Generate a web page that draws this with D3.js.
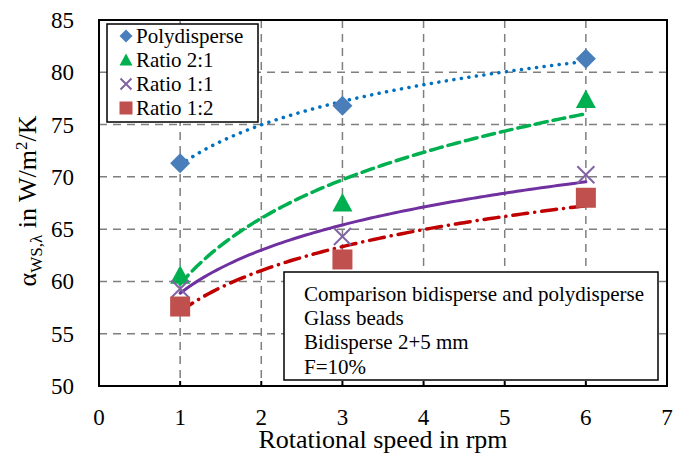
<!DOCTYPE html>
<html>
<head>
  <meta charset="UTF-8" />
  <script src="https://d3js.org/d3.v7.min.js"></script>
</head>
<body style="margin:0">
  <svg width="683" height="455" style="display:block"></svg>
  <script>
    const speeds = [1, 3, 6];
    const polydisperse = [71.3, 76.8, 81.3];
    const ratio21 = [60.6, 67.5, 77.4];
    const ratio11 = [59.3, 64.3, 70.2];
    const ratio12 = [57.6, 62.1, 68.0];
    const xTicks = [0, 1, 2, 3, 4, 5, 6, 7];
    const yTicks = [50, 55, 60, 65, 70, 75, 80, 85];
    const annotation = [
      "Comparison bidisperse and polydisperse",
      "Glass beads",
      "Bidisperse 2+5 mm",
      "F=10%"
    ];

    const series = [
      { name: "Polydisperse", values: polydisperse, marker: "diamond", color: "#4a7ebb", line: "#0070c0", dash: "0.1 7.5", width: 3.5 },
      { name: "Ratio 2:1", values: ratio21, marker: "triangle", color: "#00b050", line: "#00b050", dash: "12 6", width: 3.5 },
      { name: "Ratio 1:1", values: ratio11, marker: "cross", color: "#8064a2", line: "#7030a0", dash: null, width: 3 },
      { name: "Ratio 1:2", values: ratio12, marker: "square", color: "#c0504d", line: "#c00000", dash: "15 7 0.1 7", width: 3.5 }
    ];

    const svg = d3.select("svg");
    const m = { left: 99, top: 20, right: 667, bottom: 386 };
    const x = d3.scaleLinear().domain([0, 7]).range([m.left, m.right]);
    const y = d3.scaleLinear().domain([50, 85]).range([m.bottom, m.top]);

    // grid
    const grid = svg.append("g")
      .attr("stroke", "#7f7f7f").attr("stroke-width", 1.5).attr("stroke-dasharray", "8 6");
    grid.selectAll(".v").data(xTicks.slice(1, -1)).join("line")
      .attr("x1", d => x(d)).attr("x2", d => x(d))
      .attr("y1", m.top).attr("y2", m.bottom);
    grid.selectAll(".h").data(yTicks.slice(1, -1)).join("line")
      .attr("y1", d => y(d)).attr("y2", d => y(d))
      .attr("x1", m.left).attr("x2", m.right);

    // log trendlines (least squares on ln x)
    function logFit(xs, ys) {
      const lx = xs.map(Math.log);
      const mx = d3.mean(lx), my = d3.mean(ys);
      const a = d3.sum(lx, (v, i) => (v - mx) * (ys[i] - my)) / d3.sum(lx, v => (v - mx) ** 2);
      return t => a * Math.log(t) + my - a * mx;
    }
    const xs = d3.range(0, 101).map(i => 1 + i * 0.05);
    const line = d3.line().x(d => x(d[0])).y(d => y(d[1]));
    series.forEach(s => {
      const f = logFit(speeds, s.values);
      svg.append("path")
        .attr("d", line(xs.map(t => [t, f(t)])))
        .attr("fill", "none")
        .attr("stroke", s.line)
        .attr("stroke-width", s.width)
        .attr("stroke-linecap", "round")
        .attr("stroke-dasharray", s.dash);
    });

    // markers
    function drawMarker(g, type, color, size) {
      const h = size / 2;
      if (type === "diamond") {
        g.append("path").attr("d", `M0,${-h}L${h},0L0,${h}L${-h},0Z`).attr("fill", color);
      } else if (type === "triangle") {
        g.append("path").attr("d", `M0,${-h}L${h},${h * 0.85}L${-h},${h * 0.85}Z`).attr("fill", color);
      } else if (type === "square") {
        g.append("rect").attr("x", -h).attr("y", -h).attr("width", size).attr("height", size).attr("fill", color);
      } else {
        g.append("path").attr("d", `M${-h},${-h}L${h},${h}M${-h},${h}L${h},${-h}`)
          .attr("stroke", color).attr("stroke-width", 2).attr("fill", "none");
      }
    }
    series.forEach(s => {
      s.values.forEach((v, i) => {
        const g = svg.append("g").attr("transform", `translate(${x(speeds[i])},${y(v)})`);
        drawMarker(g, s.marker, s.color, s.marker === "cross" ? 17 : 20);
      });
    });

    // frame and inner ticks
    svg.append("rect")
      .attr("x", m.left).attr("y", m.top)
      .attr("width", m.right - m.left).attr("height", m.bottom - m.top)
      .attr("fill", "none").attr("stroke", "#000").attr("stroke-width", 2);
    svg.selectAll(".xt").data(xTicks.slice(1, -1)).join("line")
      .attr("x1", d => x(d)).attr("x2", d => x(d))
      .attr("y1", m.bottom).attr("y2", m.bottom - 5)
      .attr("stroke", "#000").attr("stroke-width", 2);

    // tick labels
    svg.selectAll(".xl").data(xTicks).join("text")
      .attr("x", d => x(d)).attr("y", 425)
      .attr("text-anchor", "middle").attr("font-size", 23)
      .text(d => d);
    svg.selectAll(".yl").data(yTicks).join("text")
      .attr("x", 74).attr("y", d => y(d) + 8)
      .attr("text-anchor", "end").attr("font-size", 23)
      .text(d => d);

    // axis titles
    svg.append("text")
      .attr("x", (m.left + m.right) / 2).attr("y", 448)
      .attr("text-anchor", "middle").attr("font-size", 26)
      .text("Rotational speed in rpm");
    const yt = svg.append("text")
      .attr("transform", `translate(36,201) rotate(-90)`)
      .attr("text-anchor", "middle").attr("font-size", 26);
    yt.append("tspan").text("α");
    yt.append("tspan").attr("font-size", 17).attr("dy", 6).text("WS,λ");
    yt.append("tspan").attr("dy", -6).text(" in W/m");
    yt.append("tspan").attr("font-size", 17).attr("dy", -9).text("2");
    yt.append("tspan").attr("dy", 9).text("/K");

    // legend
    const leg = svg.append("g");
    leg.append("rect").attr("x", 107).attr("y", 24).attr("width", 151).attr("height", 98)
      .attr("fill", "#fff").attr("stroke", "#000").attr("stroke-width", 1.5);
    series.forEach((s, i) => {
      const cy = 36 + i * 24;
      const g = leg.append("g").attr("transform", `translate(126,${cy})`);
      drawMarker(g, s.marker, s.color, s.marker === "cross" ? 11 : 13);
      leg.append("text").attr("x", 136).attr("y", cy + 7).attr("font-size", 21).text(s.name);
    });

    // annotation box
    svg.append("rect").attr("x", 284).attr("y", 272).attr("width", 374).attr("height", 108)
      .attr("fill", "#fff").attr("stroke", "#000").attr("stroke-width", 1.5);
    svg.selectAll(".ann").data(annotation).join("text")
      .attr("x", 304).attr("y", (d, i) => 301 + i * 24.2)
      .attr("font-size", 21).text(d => d);

    svg.selectAll("text, tspan")
      .attr("font-family", "Liberation Serif")
      .style("font-family", "'Liberation Serif'", "important");
  </script>
</body>
</html>
